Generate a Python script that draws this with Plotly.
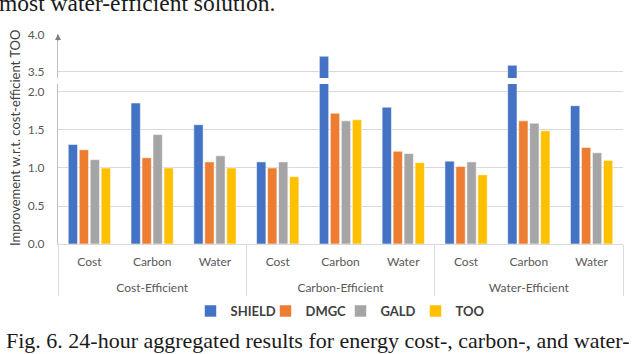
import plotly.graph_objects as go

groups = ["Cost-Efficient"] * 3 + ["Carbon-Efficient"] * 3 + ["Water-Efficient"] * 3
metrics = ["Cost", "Carbon", "Water"] * 3

shield = [1.31, 1.855, 1.57, 1.08, 3.71, 1.80, 1.09, 3.59, 1.82]
dmgc = [1.24, 1.135, 1.08, 1.00, 1.72, 1.22, 1.02, 1.62, 1.27]
gald = [1.11, 1.44, 1.16, 1.08, 1.62, 1.19, 1.08, 1.59, 1.20]
too = [1.00, 1.00, 1.00, 0.886, 1.635, 1.07, 0.91, 1.49, 1.10]

series = [("SHIELD", shield, "#4472C4"), ("DMGC", dmgc, "#ED7D31"),
          ("GALD", gald, "#A5A5A5"), ("TOO", too, "#FFC000")]

lower_ticks = [0.0, 0.5, 1.0, 1.5, 2.0]
upper_ticks = [3.5, 4.0]

W, H = 636, 354
L, R, T, B = 58, 13, 34, 110
ph = H - T - B
pw = W - L - R

def py(p):
    return (H - B - p) / ph

def px(p):
    return (p - L) / pw

# group labels pushed one line lower, as in the reference
group_labels = ["<br>" + g for g in groups]

fig = go.Figure()
for name, vals, col in series:
    for ax, ay, show in (("x", "y", True), ("x2", "y2", False)):
        fig.add_trace(go.Bar(
            x=[group_labels, metrics], y=vals, name=name, marker_color=col,
            marker_line=dict(color="rgba(255,255,255,0.55)", width=1),
            xaxis=ax, yaxis=ay, showlegend=show, legendgroup=name,
        ))

tickfont = dict(family="Lato, Open Sans, sans-serif", size=12, color="#595959")
fig.update_layout(
    width=W, height=H,
    margin=dict(l=L, r=R, t=T, b=B),
    paper_bgcolor="white", plot_bgcolor="white",
    barmode="group", bargap=0.3, bargroupgap=0.15,
    showlegend=True,
    legend=dict(orientation="h", x=0.5, xanchor="center", y=py(311), yanchor="middle",
                font=dict(family="Lato, Open Sans, sans-serif", size=13, color="#404040", weight="bold"),
                itemwidth=30, traceorder="normal", entrywidth=30, entrywidthmode="pixels"),
    xaxis=dict(type="multicategory", anchor="y", domain=[0, 1],
               showline=True, linecolor="#d9d9d9", linewidth=1,
               showdividers=True, dividercolor="#d9d9d9", dividerwidth=1,
               tickfont=tickfont, showgrid=False, ticks="", ticklabelstandoff=7),
    xaxis2=dict(type="multicategory", anchor="y2", matches="x", visible=False),
    yaxis=dict(domain=[0, py(84)], range=[0, 2.105], tickvals=lower_ticks,
               tickformat=".1f", showgrid=True, gridcolor="#d9d9d9", gridwidth=1,
               showline=True, linecolor="#bfbfbf", linewidth=1, zeroline=False,
               tickfont=tickfont, ticklabelstandoff=10),
    yaxis2=dict(domain=[py(78), 1], range=[3.42, 4.005], tickvals=upper_ticks,
                tickformat=".1f", showgrid=True, gridcolor="#d9d9d9", gridwidth=1,
                showline=True, linecolor="#bfbfbf", linewidth=1, zeroline=False,
                tickfont=tickfont, ticklabelstandoff=10, anchor="x2"),
)

fig.add_annotation(text="Improvement w.r.t. cost-efficient TOO", xref="paper", yref="paper",
                   x=px(15), y=py(138), xanchor="center", yanchor="middle", textangle=-90,
                   showarrow=False,
                   font=dict(family="Lato, Open Sans, sans-serif", size=13, color="#404040"))
fig.add_annotation(text="", xref="paper", yref="paper", x=0, y=py(34), ax=0, ay=8,
                   axref="pixel", ayref="pixel", showarrow=True, arrowhead=2,
                   arrowsize=1, arrowwidth=1.2, arrowcolor="#808080")
fig.add_annotation(text="most water-efficient solution.", xref="paper", yref="paper",
                   x=px(-3), y=py(3), xanchor="left", yanchor="middle", showarrow=False,
                   font=dict(family="Liberation Serif, Times New Roman, serif", size=23.5, color="#1a1a1a"))
fig.add_annotation(text="Fig. 6. 24-hour aggregated results for energy cost-, carbon-, and water-",
                   xref="paper", yref="paper", x=px(4), y=py(340), xanchor="left", yanchor="middle",
                   showarrow=False,
                   font=dict(family="Liberation Serif, Times New Roman, serif", size=22, color="#1a1a1a"))

fig.write_html("out.html", post_script="document.body.style.margin='0';",
               config={"displayModeBar": False})
